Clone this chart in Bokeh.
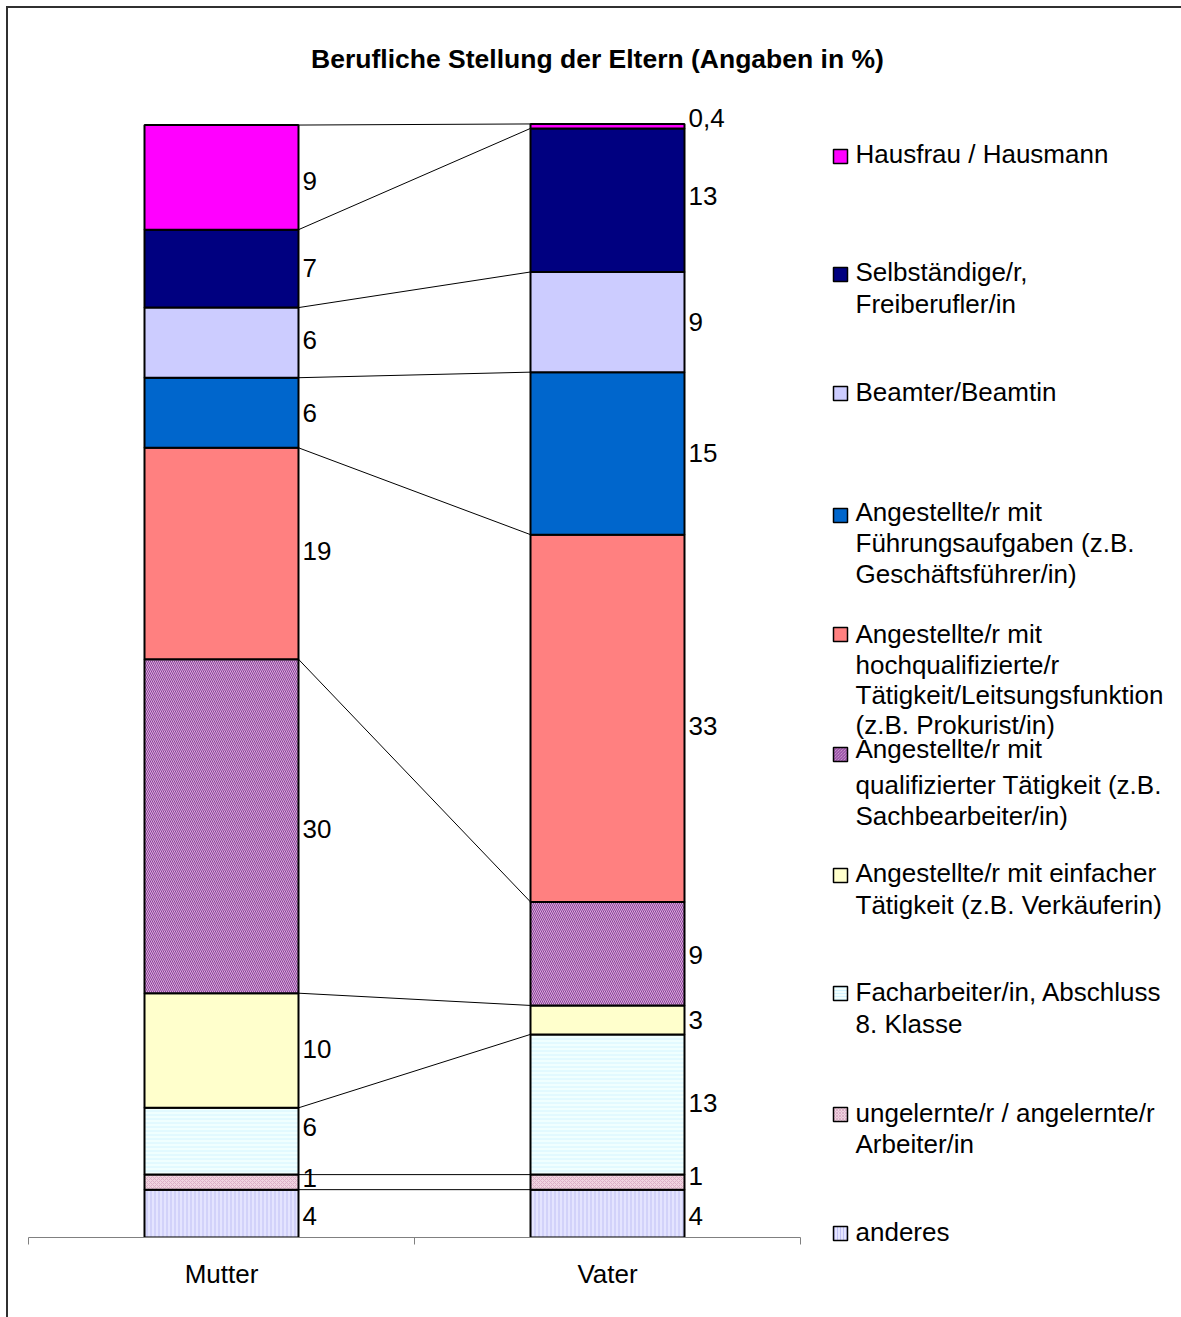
import numpy as np
from bokeh.plotting import figure
from bokeh.layouts import column, row
from bokeh.models import ColumnDataSource, Range1d, FixedTicker
from bokeh.core.properties import value
from bokeh.embed import file_html
from bokeh.resources import INLINE

# ---------------- data ----------------
categories = ["Mutter", "Vater"]
series = [
    "anderes",
    "ungelernte/r / angelernte/r Arbeiter/in",
    "Facharbeiter/in, Abschluss 8. Klasse",
    "Angestellte/r mit einfacher Tätigkeit (z.B. Verkäuferin)",
    "Angestellte/r mit qualifizierter Tätigkeit (z.B. Sachbearbeiter/in)",
    "Angestellte/r mit hochqualifizierte/r Tätigkeit/Leitsungsfunktion (z.B. Prokurist/in)",
    "Angestellte/r mit Führungsaufgaben (z.B. Geschäftsführer/in)",
    "Beamter/Beamtin",
    "Selbständige/r, Freiberufler/in",
    "Hausfrau / Hausmann",
]
# values in % (labels show them rounded)
mutter = [4.3, 1.35, 6.0, 10.3, 30.0, 19.0, 6.3, 6.3, 7.0, 9.4]
vater = [4.3, 1.35, 12.6, 2.6, 9.3, 33.0, 14.6, 9.0, 12.9, 0.4]
legend_lines = [
    ["anderes"],
    ["ungelernte/r / angelernte/r", "Arbeiter/in"],
    ["Facharbeiter/in, Abschluss", "8. Klasse"],
    ["Angestellte/r mit einfacher", "Tätigkeit (z.B. Verkäuferin)"],
    ["Angestellte/r mit", "qualifizierter Tätigkeit (z.B.", "Sachbearbeiter/in)"],
    ["Angestellte/r mit", "hochqualifizierte/r", "Tätigkeit/Leitsungsfunktion", "(z.B. Prokurist/in)"],
    ["Angestellte/r mit", "Führungsaufgaben (z.B.", "Geschäftsführer/in)"],
    ["Beamter/Beamtin"],
    ["Selbständige/r,", "Freiberufler/in"],
    ["Hausfrau / Hausmann"],
]
title_text = "Berufliche Stellung der Eltern (Angaben in %)"

# ---------------- styles ----------------
fills = ["#e4e4ff", "#f0d4e0", "#f0ffff", "#ffffcc", "#d8b0d8",
         "#ff8080", "#0066cc", "#ccccff", "#000080", "#ff00ff"]
hatches = ["vertical_line", "diagonal_cross", "horizontal_line", None, "left_diagonal_line",
           None, None, None, None, None]
hatch_colors = ["#c0c0f4", "#dcb0c8", "#d4f4ff", None, "#8c3c9c",
                None, None, None, None, None]
FONT = "Liberation Sans"
FS = "26px"

# label nudges in px (positive = down), as placed in the original
nudge_m = [2, -4, -14, -2, 3, -3, 0, -3, -1, 4]
nudge_v = [2, -6, -1, 0, 1, 8, 0, 0, -4, -8]

# page layout (page pixels); everything starts at page (8, 8)
TOP_H = 92                 # title strip: page y 8..100
SPLIT = 820                # page x where legend panel starts
X0, XS = 28.0, 386.0       # page x of x=0, px per category
Y0, YS = 1237.0, 11.13     # page y of y=0, px per percent


def dx(px):
    return (px - X0) / XS


def dy(py):
    return (Y0 - py) / YS


def no_align(f):
    try:
        f.frame_align = False
    except Exception:
        pass


def plain(w, h, xr, yr):
    f = figure(width=w, height=h, output_backend="svg", toolbar_location=None,
               x_range=xr, y_range=yr, x_axis_location=None, y_axis_location=None,
               min_border=0, min_border_left=0, min_border_right=0,
               min_border_top=0, min_border_bottom=0, outline_line_color=None)
    f.xgrid.visible = False
    f.ygrid.visible = False
    no_align(f)
    return f


# ---------- title strip ----------
pt = plain(1173, TOP_H, Range1d(8, 1181), Range1d(8 + TOP_H, 8))
pt.text(x=[597], y=[58], text=[title_text], text_font=value(FONT), text_font_size="26.5px",
        text_font_style="bold", text_align="center", text_baseline="middle", text_color="black")

# ---------- main chart ----------
main_h = 1317 - 8 - TOP_H
p = figure(width=SPLIT - 8, height=main_h, output_backend="svg", toolbar_location=None,
           x_range=Range1d(0, dx(SPLIT)), y_range=Range1d(0, dy(8 + TOP_H)),
           min_border_left=20, min_border_right=0, min_border_top=0, min_border_bottom=80,
           y_axis_location=None, outline_line_color=None)
p.xgrid.visible = False
p.ygrid.visible = False
no_align(p)

centers = [0.5, 1.5]
bw = 154.0 / XS

m = np.array(mutter, dtype=float)
v = np.array(vater, dtype=float)
m_top = np.cumsum(m)
v_top = np.cumsum(v)
m_bot = m_top - m
v_bot = v_top - v


def fmt(val):
    if val < 1:
        return ("%.1f" % val).replace(".", ",")
    return str(int(round(val)))


# series lines
seg = ColumnDataSource(dict(x0=[centers[0] + bw / 2] * len(series), y0=list(m_top),
                            x1=[centers[1] - bw / 2] * len(series), y1=list(v_top)))
p.segment("x0", "y0", "x1", "y1", source=seg, line_color="black", line_width=1)

# bars
for i, name in enumerate(series):
    src = ColumnDataSource(dict(x=centers, bottom=[m_bot[i], v_bot[i]], top=[m_top[i], v_top[i]]))
    kw = dict(fill_color=fills[i], line_color="black", line_width=2)
    if hatches[i]:
        kw.update(hatch_pattern=hatches[i], hatch_color=hatch_colors[i], hatch_scale=4, hatch_weight=1)
    p.vbar(x="x", bottom="bottom", top="top", width=bw, source=src, **kw)

# data labels
lab = ColumnDataSource(dict(
    x=[centers[0] + bw / 2 + 4 / XS] * len(series) + [centers[1] + bw / 2 + 4 / XS] * len(series),
    y=list((m_top + m_bot) / 2 - np.array(nudge_m) / YS) + list((v_top + v_bot) / 2 - np.array(nudge_v) / YS),
    text=[fmt(a) for a in mutter] + [fmt(b) for b in vater]))
p.text("x", "y", "text", source=lab, text_font=value(FONT), text_font_size=FS,
       text_baseline="middle", text_align="left", text_color="black")

# axis
ax = p.xaxis[0]
ax.ticker = FixedTicker(ticks=centers, minor_ticks=[0, 1, 2])
ax.bounds = (0, 2)
ax.major_label_overrides = {centers[0]: categories[0], centers[1]: categories[1]}
ax.major_tick_out = 0
ax.major_tick_in = 0
ax.minor_tick_out = 7
ax.minor_tick_in = 0
ax.axis_line_color = "#808080"
ax.minor_tick_line_color = "#808080"
ax.major_label_text_font = FONT
ax.major_label_text_font_size = FS
ax.major_label_text_color = "black"
ax.major_label_standoff = 14

# ---------- legend panel (page-pixel coordinates) ----------
pl = plain(1181 - SPLIT, main_h, Range1d(SPLIT, 1181), Range1d(1317, 8 + TOP_H))
swatch_py = [1233, 1114, 993, 875, 754, 634, 515, 393, 274, 156]
line_py = [[1231], [1112, 1143], [991, 1023], [872, 904], [748, 784, 815],
           [633, 664, 694, 724], [511, 542, 573], [391], [271, 303], [153]]
for i in range(len(series)):
    kw = dict(fill_color=fills[i], line_color="black", line_width=1.5)
    if hatches[i]:
        kw.update(hatch_pattern=hatches[i], hatch_color=hatch_colors[i], hatch_scale=3, hatch_weight=1)
    pl.rect(x=[840], y=[swatch_py[i]], width=14, height=14, **kw)
    pl.text(x=[855] * len(legend_lines[i]), y=line_py[i], text=legend_lines[i],
            text_font=value(FONT), text_font_size=FS, text_baseline="middle", text_align="left",
            text_color="black")

layout = column(pt, row(p, pl, spacing=0), spacing=0)
layout.styles = {"margin-left": "8px", "margin-top": "8px", "outline": "2px solid #303030"}

open("out.html", "w").write(file_html(layout, INLINE))
